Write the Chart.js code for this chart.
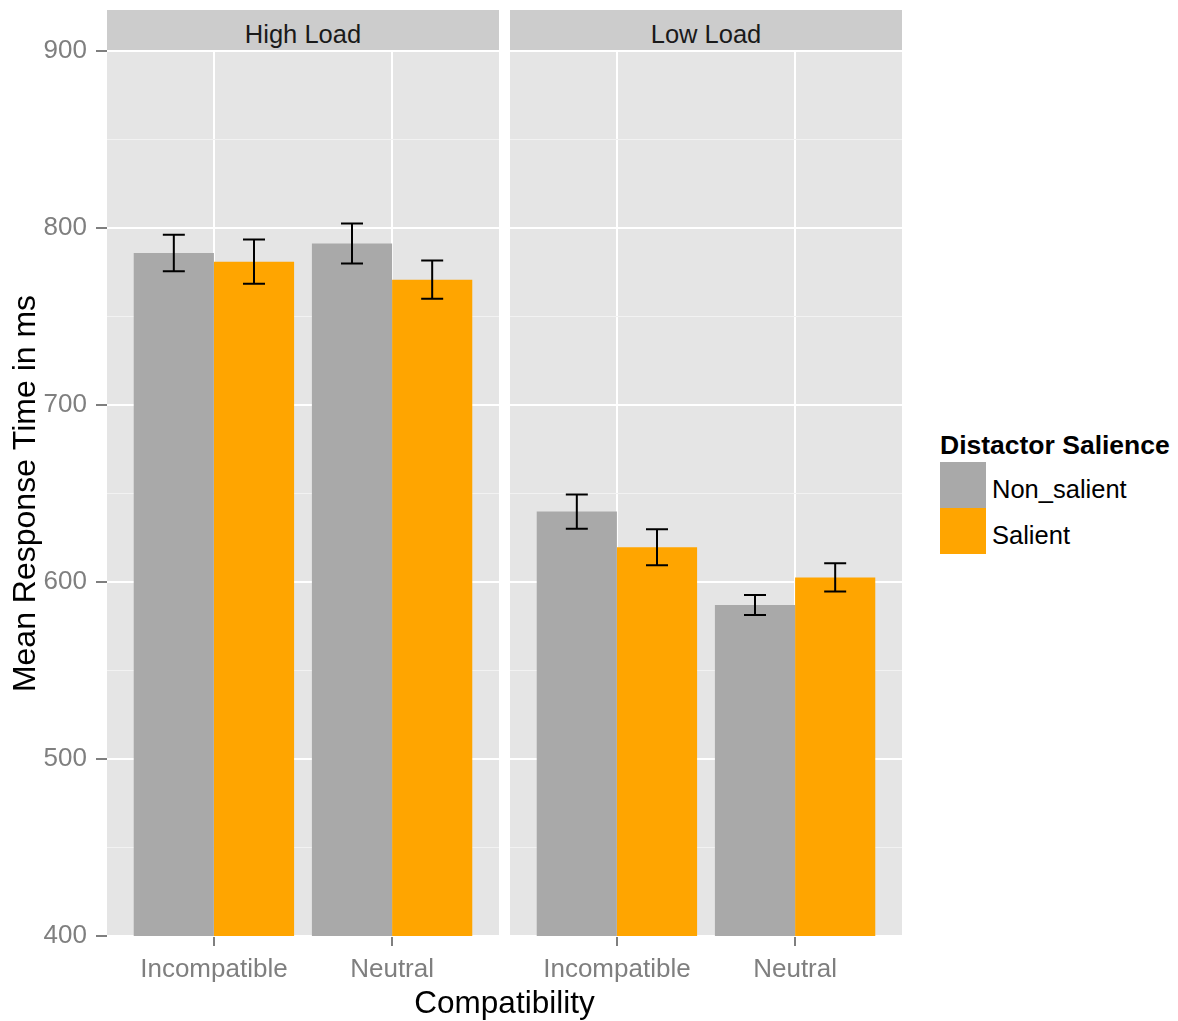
<!DOCTYPE html>
<html>
<head>
<meta charset="utf-8">
<script src="https://cdn.jsdelivr.net/npm/chart.js@4"></script>
<style>
  html, body { margin: 0; padding: 0; background: #ffffff; }
  body { width: 1178px; height: 1021px; position: relative; overflow: hidden;
         font-family: "Liberation Sans", Arial, sans-serif; }
  canvas { position: absolute; }
  .strip { position: absolute; top: 10px; height: 40px; background: #CCCCCC;
           color: #1A1A1A; font-size: 25.5px; line-height: 48px; text-align: center; }
  .xtitle { position: absolute; left: 107px; width: 795px; top: 982px; text-align: center;
            font-size: 31.5px; color: #000; line-height: 40px; }
  .legend { position: absolute; left: 940px; top: 428px; }
  .legend .ttl { font-weight: bold; font-size: 26.5px; color: #000; line-height: 34px; white-space: nowrap; }
  .legend .row { position: relative; height: 46px; }
  .legend .key { position: absolute; left: 0; top: 0; width: 46px; height: 46px; }
  .legend .lab { position: absolute; left: 52px; top: 0; line-height: 54px; font-size: 25.5px; color: #000; white-space: nowrap; }
</style>
</head>
<body>
<canvas id="panelHigh" width="499" height="990" style="left:0;top:0"></canvas>
<canvas id="panelLow" width="392" height="990" style="left:510px;top:0"></canvas>
<div class="strip" id="stripHigh" style="left:107px;width:392px"></div>
<div class="strip" id="stripLow" style="left:510px;width:392px"></div>
<div class="xtitle" id="xTitle"></div>
<div class="legend" id="legend"></div>

<script>
// Facets, categories and groups
const loads = ['High Load', 'Low Load'];
const categories = ['Incompatible', 'Neutral'];
const groups = ['Non_salient', 'Salient'];
const groupColors = ['#A9A9A9', '#FFA500'];

// Mean response times (ms), per category
const highNonSalient = [785.9, 791.2];
const highSalient = [781.0, 770.8];
const lowNonSalient = [639.8, 587.0];
const lowSalient = [619.6, 602.6];

// Standard errors (ms), per category
const highNonSalientSE = [10.3, 11.3];
const highSalientSE = [12.5, 10.8];
const lowNonSalientSE = [9.7, 5.7];
const lowSalientSE = [10.2, 8.0];

// Axis settings
const yMin = 400;
const yMax = 900;
const yTicks = [400, 500, 600, 700, 800, 900];
const yTitle = 'Mean Response Time in ms';
const xTitle = 'Compatibility';
const legendTitle = 'Distactor Salience';

Chart.defaults.font.family = '"Liberation Sans", Arial, sans-serif';

const isMajor = v => yTicks.includes(v);

// Panel background
const panelBg = {
  id: 'panelBg',
  beforeDraw(chart) {
    const { ctx, chartArea: a } = chart;
    ctx.save();
    ctx.fillStyle = '#E5E5E5';
    ctx.fillRect(a.left, a.top, a.right - a.left, a.bottom - a.top);
    ctx.restore();
  }
};

// Error bars: mean ± SE
const errorBars = {
  id: 'errorBars',
  afterDatasetsDraw(chart) {
    const { ctx } = chart;
    const yScale = chart.scales.y;
    ctx.save();
    ctx.strokeStyle = '#000000';
    ctx.lineWidth = 2;
    chart.data.datasets.forEach((ds, di) => {
      const meta = chart.getDatasetMeta(di);
      meta.data.forEach((bar, i) => {
        const m = ds.data[i].y;
        const se = ds.se[i];
        const yLo = yScale.getPixelForValue(m - se);
        const yHi = yScale.getPixelForValue(m + se);
        const half = 11;
        ctx.beginPath();
        ctx.moveTo(bar.x, yLo); ctx.lineTo(bar.x, yHi);
        ctx.moveTo(bar.x - half, yLo); ctx.lineTo(bar.x + half, yLo);
        ctx.moveTo(bar.x - half, yHi); ctx.lineTo(bar.x + half, yHi);
        ctx.stroke();
      });
    });
    ctx.restore();
  }
};

function makePanel(canvasId, nonSalient, salient, nonSE, salSE, showYAxis) {
  const toPoints = arr => arr.map((v, i) => ({ x: i + 1, y: v }));
  return new Chart(document.getElementById(canvasId), {
    type: 'bar',
    data: {
      datasets: [
        { label: groups[0], data: toPoints(nonSalient), se: nonSE, backgroundColor: groupColors[0],
          categoryPercentage: 0.9, barPercentage: 1.0, borderWidth: 0 },
        { label: groups[1], data: toPoints(salient), se: salSE, backgroundColor: groupColors[1],
          categoryPercentage: 0.9, barPercentage: 1.0, borderWidth: 0 }
      ]
    },
    options: {
      responsive: false,
      animation: false,
      devicePixelRatio: 1,
      layout: { padding: { top: 51, bottom: 0, left: 0, right: 0 } },
      plugins: { legend: { display: false }, tooltip: { enabled: false } },
      scales: {
        x: {
          type: 'linear',
          min: 0.4,
          max: 2.6,
          offset: false,
          afterBuildTicks: s => { s.ticks = categories.map((c, i) => ({ value: i + 1 })); },
          afterFit: s => { s.height = 54; },
          border: { display: false },
          grid: { offset: false, color: '#FFFFFF', lineWidth: 2, tickColor: '#555555', tickWidth: 1.5, tickLength: 10 },
          ticks: {
            autoSkip: false,
            maxRotation: 0,
            padding: 8,
            color: '#7F7F7F',
            font: { size: 26 },
            callback: v => categories[Math.round(v) - 1]
          }
        },
        y: {
          min: yMin,
          max: yMax,
          afterBuildTicks: s => {
            const t = [];
            for (let v = yMin; v <= yMax; v += 50) t.push({ value: v });
            s.ticks = t;
          },
          afterFit: s => { s.width = showYAxis ? 107 : 0; },
          border: { display: false },
          grid: {
            color: c => isMajor(c.tick.value) ? '#FFFFFF' : '#F2F2F2',
            lineWidth: c => isMajor(c.tick.value) ? 2 : 1,
            drawTicks: showYAxis,
            tickLength: 11,
            tickColor: c => isMajor(c.tick.value) ? '#555555' : 'rgba(0,0,0,0)',
            tickWidth: 1.5
          },
          ticks: {
            display: showYAxis,
            autoSkip: false,
            padding: 9,
            color: '#7F7F7F',
            font: { size: 26 },
            callback: v => isMajor(v) ? String(v) : ''
          },
          title: {
            display: showYAxis,
            text: yTitle,
            color: '#000000',
            font: { size: 32 },
            padding: { top: 7, bottom: 0 }
          }
        }
      }
    },
    plugins: [panelBg, errorBars]
  });
}

makePanel('panelHigh', highNonSalient, highSalient, highNonSalientSE, highSalientSE, true);
makePanel('panelLow', lowNonSalient, lowSalient, lowNonSalientSE, lowSalientSE, false);

// Facet strips, axis title and legend
document.getElementById('stripHigh').textContent = loads[0];
document.getElementById('stripLow').textContent = loads[1];
document.getElementById('xTitle').textContent = xTitle;

const legend = document.getElementById('legend');
const lt = document.createElement('div');
lt.className = 'ttl';
lt.textContent = legendTitle;
legend.appendChild(lt);
groups.forEach((g, i) => {
  const row = document.createElement('div');
  row.className = 'row';
  const key = document.createElement('div');
  key.className = 'key';
  key.style.background = groupColors[i];
  const lab = document.createElement('div');
  lab.className = 'lab';
  lab.textContent = g;
  row.appendChild(key);
  row.appendChild(lab);
  legend.appendChild(row);
});
</script>
</body>
</html>
